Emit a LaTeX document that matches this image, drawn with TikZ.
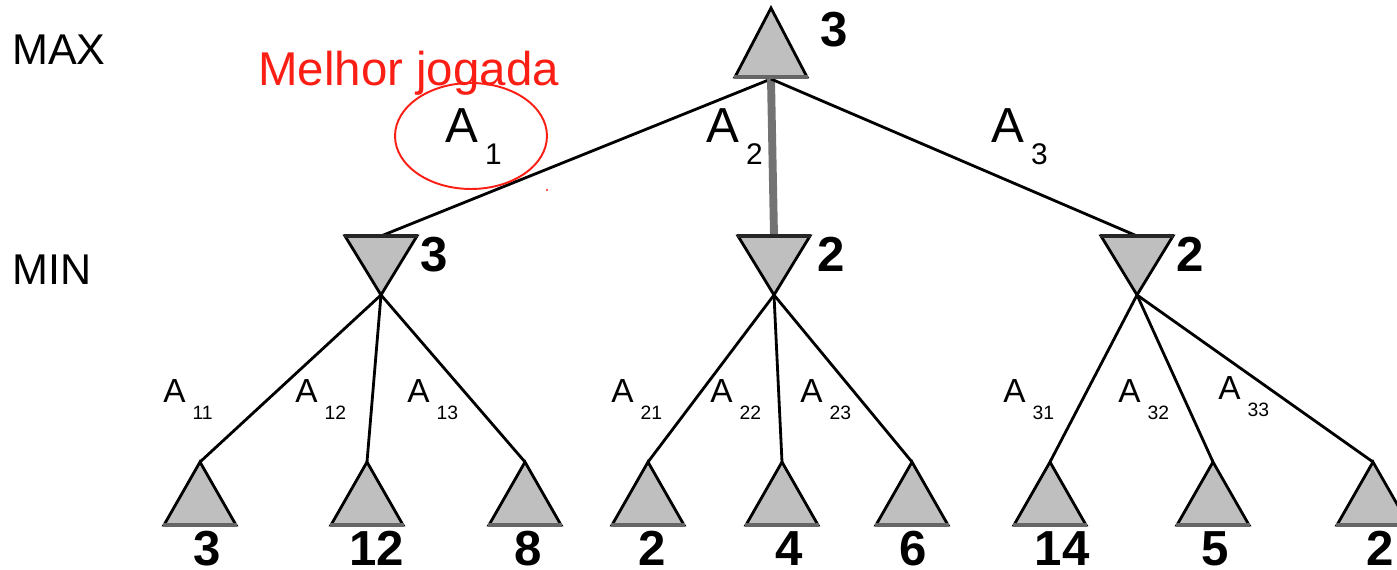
\documentclass[tikz,border=0pt]{standalone}
\usepackage{fontspec}
\setmainfont{Liberation Sans}
\usepackage{xcolor}
\definecolor{mred}{RGB}{250,30,20}

\newcommand{\alab}[1]{A\hspace{4pt}\raisebox{-9.5pt}{\fontsize{11}{11}\selectfont #1}}
\newcommand{\Alab}[1]{A\hspace{4pt}\raisebox{-12.5pt}{\fontsize{17}{17}\selectfont #1}}

\begin{document}
\begin{tikzpicture}[x=0.02cm, y=-0.02cm,
    tri/.style={draw, fill=black!25, line width=1.6pt},
    upbase/.style={draw=black!60, line width=2.6pt},
    edge/.style={line width=1.6pt},
    val/.style={font=\fontsize{28}{28}\selectfont\bfseries, inner sep=0pt, anchor=base},
    lvl/.style={font=\fontsize{24.5}{24.5}\selectfont, inner sep=0pt, anchor=base west},
    elab/.style={font=\fontsize{19}{19}\selectfont, inner sep=0pt, anchor=base west},
    Elab/.style={font=\fontsize{28}{28}\selectfont, inner sep=0pt, anchor=base west}]
    \useasboundingbox (0,0) rectangle (1397,570);

    % apex points
    \coordinate (root) at (771,8);
    \coordinate (rootb) at (771,79);
    \foreach \n/\x in {m1/381, m2/774, m3/1137} {
      \coordinate (\n) at (\x,295);
      \coordinate (\n t) at (\x,236);
    }
    \foreach \n/\x in {l11/200, l12/367, l13/525, l21/648, l22/782, l23/912, l31/1050, l32/1213, l33/1373}
      \coordinate (\n) at (\x,462);

    % moves
    \draw[edge] (rootb) -- (m1t);
    \draw[draw=black!55, line width=4.5pt] (rootb) -- (m2t);
    \draw[edge] (rootb) -- (m3t);
    \foreach \i in {1,2,3}
      \foreach \j in {1,2,3}
        \draw[edge] (m\i) -- (l\i\j);

    % MAX and MIN triangles
    \draw[tri] (root) -- ++(36,69) -- ++(-72,0) -- cycle;
    \draw[upbase] (root) ++(-37,69) -- ++(74,0);
    \foreach \n in {m1,m2,m3} {
      \draw[tri] (\n) -- ++(36,-59) -- ++(-72,0) -- cycle;
      \draw[draw=black!85, line width=2.6pt] (\n) ++(-37,-59) -- ++(74,0);
    }
    \foreach \n in {l11,l12,l13,l21,l22,l23,l31,l32,l33} {
      \draw[tri] (\n) -- ++(36,63) -- ++(-72,0) -- cycle;
      \draw[upbase] (\n) ++(-37,63) -- ++(74,0);
    }

    % values
    \node[val] (vroot) at (834,47) {3};
    \node[val] (vm1) at (434,272) {3};
    \node[val] (vm2) at (831,272) {2};
    \node[val] (vm3) at (1190,272) {2};
    \foreach \n/\x/\v in {l11/207/3, l12/377/12, l13/528/8, l21/652/2, l22/789/4, l23/913/6, l31/1062/14, l32/1215/5, l33/1380/2}
      \node[val] (v\n) at (\x,566) {\v};

    % levels
    \node[lvl] (max) at (12,65) {MAX};
    \node[lvl] (min) at (12,285) {MIN};

    % action labels
    \node[Elab] (a1) at (445,143) {\Alab{1}};
    \node[Elab] (a2) at (706,143) {\Alab{2}};
    \node[Elab] (a3) at (991,143) {\Alab{3}};
    \foreach \n/\x/\y in {11/163/403, 12/295/403, 13/407/403, 21/611/403, 22/710/403, 23/800/403, 31/1003/403, 32/1118/403, 33/1218/400}
      \node[elab] (a\n) at (\x,\y) {\alab{\n}};

    % best move
    \node[font=\fontsize{27}{27}\selectfont, text=mred, inner sep=0pt, anchor=base west] (best) at (258,86) {Melhor jogada};
    \draw[mred, line width=1.1pt] (471,136) ellipse [x radius=1.52cm, y radius=1.06cm];
    \fill[mred] (547,190) circle [radius=0.7pt];
  \end{tikzpicture}
\end{document}
